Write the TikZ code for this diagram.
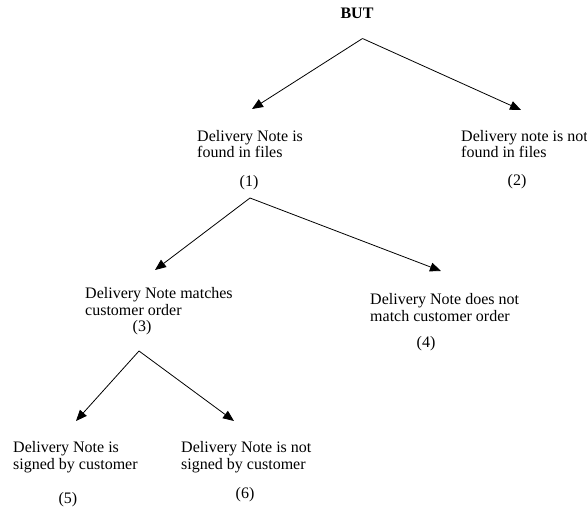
\documentclass[tikz,border=0pt]{standalone}
\usepackage{fontspec}
\setmainfont{Liberation Serif}
\usetikzlibrary{arrows.meta}
\tikzset{
  lbl/.style={inner sep=0pt, anchor=base west, align=left, font=\fontsize{16}{16.5}\selectfont},
  num/.style={inner sep=0pt, anchor=base, font=\fontsize{16}{16.5}\selectfont},
  arr/.style={line width=0.8pt, -{Triangle[length=11pt,width=9pt]}}
}
\begin{document}
\begin{tikzpicture}[x=1pt,y=-1pt]
\useasboundingbox (0,0) rectangle (587,508);
\node[num, font=\fontsize{16}{16.5}\selectfont\bfseries] (but) at (357,19) {BUT};
\node[lbl] (n1) at (197,158) {Delivery Note is\\found in files};
\node[num] (l1) at (249,187) {(1)};
\node[lbl] (n2) at (461,158) {Delivery note is not\\found in files};
\node[num] (l2) at (517,186) {(2)};
\node[lbl] (n3) at (85,315) {Delivery Note matches\\customer order};
\node[num] (l3) at (142,331) {(3)};
\node[lbl] (n4) at (370,321) {Delivery Note does not\\match customer order};
\node[num] (l4) at (426,347) {(4)};
\node[lbl] (n5) at (13,469) {Delivery Note is\\signed by customer};
\node[num] (l5) at (68,503) {(5)};
\node[lbl] (n6) at (181,469) {Delivery Note is not\\signed by customer};
\node[num] (l6) at (245,498) {(6)};
\coordinate (a0) at (362.5,38.5);
\coordinate (t1) at (252,109);
\coordinate (t2) at (521,110);
\coordinate (a1) at (250,198);
\coordinate (t3) at (155,270);
\coordinate (t4) at (441,271);
\coordinate (a3) at (139,351);
\coordinate (t5) at (76,421);
\coordinate (t6) at (234,421);
\draw[arr] (a0) -- (t1);
\draw[arr] (a0) -- (t2);
\draw[arr] (a1) -- (t3);
\draw[arr] (a1) -- (t4);
\draw[arr] (a3) -- (t5);
\draw[arr] (a3) -- (t6);
\end{tikzpicture}
\end{document}
